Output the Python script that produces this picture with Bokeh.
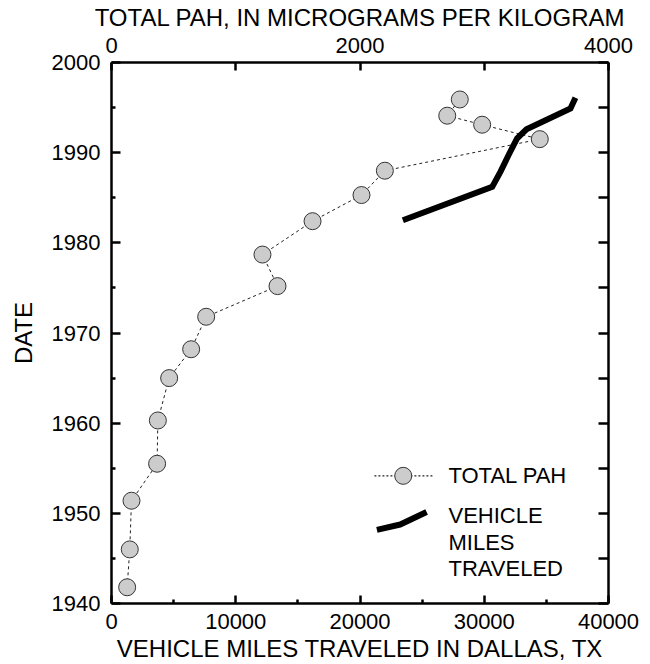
from bokeh.plotting import figure
from bokeh.models import LinearAxis, Range1d, FixedTicker, Label
from bokeh.embed import file_html
from bokeh.resources import INLINE

# ---------------- data ----------------
pah_years = [1941.8, 1946.0, 1951.4, 1955.5, 1960.3, 1965.0, 1968.2, 1971.8,
             1975.2, 1978.7, 1982.4, 1985.3, 1988.0, 1991.5, 1993.1, 1994.1, 1995.9]
pah_values = [126, 147, 161, 367, 373, 464, 641, 762,
              1336, 1215, 1618, 2012, 2200, 3447, 2983, 2702, 2803]

vmt_years = [1982.5, 1986.2, 1987.9, 1989.8, 1991.6, 1992.6, 1994.9, 1996.1]
vmt_values = [23450, 30640, 31310, 31980, 32650, 33400, 36940, 37340]

x_ticks = [0, 10000, 20000, 30000, 40000]
x_minor = [5000, 15000, 25000, 35000]
pah_ticks = [0, 2000, 4000]
pah_minor = [1000, 3000]
y_ticks = [1940, 1950, 1960, 1970, 1980, 1990, 2000]
y_minor = [1945, 1955, 1965, 1975, 1985, 1995]
right_ticks = [1940, 1945, 1950, 1955, 1960, 1965, 1970, 1975, 1980, 1985, 1990, 1995, 2000]

x_label = "VEHICLE MILES TRAVELED IN DALLAS, TX"
top_label = "TOTAL PAH, IN MICROGRAMS PER KILOGRAM"
y_label = "DATE"
legend_labels = ["TOTAL PAH", "VEHICLE", "MILES", "TRAVELED"]

FONT = "Liberation Sans"

p = figure(width=650, height=664,
           x_range=Range1d(0, 40000), y_range=Range1d(1940, 2000),
           output_backend="svg", toolbar_location=None,
           min_border_left=111, min_border_right=42,
           min_border_top=61, min_border_bottom=61)
p.extra_x_ranges = {"pah": Range1d(0, 4000)}
p.xgrid.visible = False
p.ygrid.visible = False
p.outline_line_color = None
p.background_fill_color = "white"
p.border_fill_color = "white"


def style(ax, tick_in, minor_in, label_standoff=6, axis_standoff=4):
    ax.axis_line_width = 2.5
    ax.axis_line_color = "black"
    ax.major_tick_line_width = 2.5
    ax.major_tick_line_color = "black"
    ax.major_tick_in = tick_in
    ax.major_tick_out = 0
    ax.minor_tick_line_width = 2.5
    ax.minor_tick_line_color = "black"
    ax.minor_tick_in = minor_in
    ax.minor_tick_out = 0
    ax.major_label_text_font = FONT
    ax.major_label_text_font_size = "22px"
    ax.major_label_text_color = "black"
    ax.axis_label_text_font = FONT
    ax.axis_label_text_font_size = "24px"
    ax.axis_label_text_font_style = "normal"
    ax.axis_label_text_color = "black"
    ax.major_label_standoff = label_standoff
    ax.axis_label_standoff = axis_standoff


xa = p.xaxis[0]
xa.ticker = FixedTicker(ticks=x_ticks, minor_ticks=x_minor)
xa.axis_label = x_label
style(xa, 8, 4, 10, 3)

ya = p.yaxis[0]
ya.ticker = FixedTicker(ticks=y_ticks, minor_ticks=y_minor)
ya.axis_label = y_label
style(ya, 9, 4, 11, 12)

top = LinearAxis(x_range_name="pah", axis_label=top_label,
                 ticker=FixedTicker(ticks=pah_ticks, minor_ticks=pah_minor))
style(top, 8, 8, 10, 4)
p.add_layout(top, "above")

right = LinearAxis(ticker=FixedTicker(ticks=right_ticks, minor_ticks=[]),
                   major_label_overrides={t: "" for t in right_ticks})
style(right, 10, 0, 0, 0)
p.add_layout(right, "right")

# ---------------- data marks ----------------
p.line(pah_values, pah_years, x_range_name="pah", line_dash="3 3",
       line_color="#222222", line_width=1)
p.scatter(pah_values, pah_years, x_range_name="pah", size=17,
          fill_color="#cccccc", line_color="#333333", line_width=1)
p.line(vmt_values, vmt_years, line_width=6, line_color="black", line_join="miter")


# legend placement helpers: fractions of the plot frame -> data units
def fx(frac):
    return frac * 40000


def fy(frac):
    return 1940 + frac * 60


# ---------------- legend (drawn manually, no box) ----------------
ly = fy(0.236)
p.line([fx(0.529), fx(0.646)], [ly, ly], line_dash="2 2", line_color="#222222", line_width=1.2)
p.scatter([fx(0.587)], [ly], size=17, fill_color="#cccccc", line_color="#333333", line_width=1)
p.line([fx(0.534), fx(0.581), fx(0.634)], [fy(0.136), fy(0.146), fy(0.169)],
       line_width=6, line_color="black")

for txt, fr in zip(legend_labels, [0.236, 0.162, 0.113, 0.064]):
    p.add_layout(Label(x=fx(0.678), y=fy(fr), text=txt, text_font=FONT,
                       text_font_size="22px", text_color="black",
                       text_align="left", text_baseline="middle"))

open("out.html", "w").write(file_html(p, INLINE))
